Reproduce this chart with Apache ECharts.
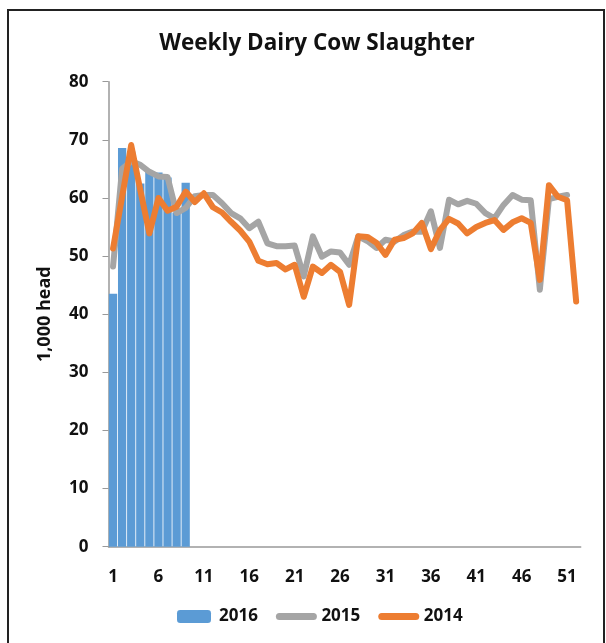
<!DOCTYPE html>
<html>
<head>
<meta charset="utf-8">
<script src="https://cdn.jsdelivr.net/npm/echarts@6/dist/echarts.min.js"></script>
<style>
  html, body { margin: 0; padding: 0; background: #fff; }
  #chart { width: 606px; height: 643px; }
</style>
</head>
<body>
<div id="chart"></div>
<script>
// weeks of the year
const weeks = ['1', '2', '3', '4', '5', '6', '7', '8', '9', '10',
  '11', '12', '13', '14', '15', '16', '17', '18', '19', '20',
  '21', '22', '23', '24', '25', '26', '27', '28', '29', '30',
  '31', '32', '33', '34', '35', '36', '37', '38', '39', '40',
  '41', '42', '43', '44', '45', '46', '47', '48', '49', '50',
  '51', '52']

// 1,000 head
const y2016 = [43.5, 68.6, 68.0, 62.5, 64.6, 64.4, 63.5, 57.5, 62.6]
const y2015 = [48.2, 65.0, 66.3, 65.7, 64.5, 63.7, 63.6, 57.4, 58.3, 60.3,
  60.5, 60.5, 59.1, 57.4, 56.5, 54.8, 55.9, 52.2, 51.7, 51.7,
  51.8, 46.5, 53.4, 49.9, 50.8, 50.6, 48.5, 53.4, 52.6, 51.4,
  52.8, 52.5, 53.6, 54.2, 54.2, 57.7, 51.4, 59.7, 58.9, 59.5,
  59.0, 57.4, 56.5, 58.8, 60.5, 59.7, 59.6, 44.2, 59.8, 60.2,
  60.5, null]
const y2014 = [51.3, 60.2, 69.1, 61.4, 53.9, 60.0, 57.8, 58.5, 61.1, 59.3,
  60.8, 58.4, 57.5, 55.9, 54.4, 52.5, 49.2, 48.6, 48.8, 47.7,
  48.5, 43.0, 48.2, 47.1, 48.5, 47.3, 41.6, 53.4, 53.3, 52.3,
  50.2, 52.8, 53.1, 53.9, 55.7, 51.2, 54.5, 56.4, 55.6, 53.9,
  55.0, 55.7, 56.2, 54.5, 55.8, 56.5, 55.7, 45.9, 62.2, 60.2,
  59.6, 42.2]

const chart = echarts.init(document.getElementById('chart'))

const labelFont = {
  fontFamily: '"Open Sans", Lato, sans-serif',
  fontWeight: 'bold',
  fontSize: 17,
  color: '#111'
}

chart.setOption({
  animation: false,
  title: {
    text: 'Weekly Dairy Cow Slaughter',
    left: 312,
    textAlign: 'center',
    top: 27,
    textStyle: {
      fontFamily: '"Open Sans", Lato, sans-serif',
      fontWeight: 'bold',
      fontSize: 22.5,
      color: '#111'
    }
  },
  graphic: [{
    type: 'rect',
    shape: { x: 8, y: 10, width: 596, height: 640 },
    style: { fill: 'none', stroke: '#222', lineWidth: 2 }
  }],
  legend: {
    left: 172,
    top: 603,
    itemWidth: 34,
    itemHeight: 13,
    itemGap: 18,
    textStyle: { ...labelFont, padding: [0, 0, 0, 3] },
    data: [
      { name: '2016' },
      { name: '2015', itemStyle: { opacity: 0 }, lineStyle: { width: 7, cap: 'round' } },
      { name: '2014', itemStyle: { opacity: 0 }, lineStyle: { width: 7, cap: 'round' } }
    ]
  },
  grid: {
    left: 108.5,
    right: 25.3,
    top: 81.7,
    bottom: 96.3
  },
  xAxis: {
    type: 'category',
    data: weeks,
    axisLine: { lineStyle: { color: '#999', width: 1.5 } },
    axisTick: { interval: 0, length: 6, lineStyle: { color: '#999' } },
    axisLabel: { ...labelFont, interval: 4, margin: 22 }
  },
  yAxis: {
    type: 'value',
    min: 0,
    max: 80,
    interval: 10,
    name: '1,000 head',
    nameLocation: 'middle',
    nameGap: 55,
    nameTextStyle: { ...labelFont, fontSize: 18 },
    splitLine: { show: false },
    axisLine: { show: true, lineStyle: { color: '#999', width: 1.5 } },
    axisTick: { show: true, length: 6, lineStyle: { color: '#999' } },
    axisLabel: { ...labelFont, margin: 20 }
  },
  series: [
    {
      name: '2016',
      type: 'bar',
      data: y2016,
      barCategoryGap: '9%',
      itemStyle: { color: '#5B9BD5' }
    },
    {
      name: '2015',
      type: 'line',
      data: y2015,
      symbol: 'none',
      color: '#A5A5A5',
      lineStyle: { width: 6, color: '#A5A5A5', cap: 'round', join: 'round' }
    },
    {
      name: '2014',
      type: 'line',
      data: y2014,
      symbol: 'none',
      color: '#ED7D31',
      lineStyle: { width: 6, color: '#ED7D31', cap: 'round', join: 'round' }
    }
  ]
})
</script>
</body>
</html>
